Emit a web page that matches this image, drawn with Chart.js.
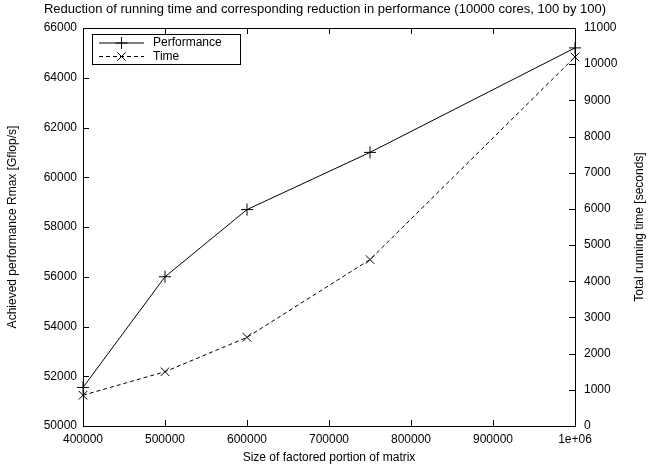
<!DOCTYPE html>
<html>
<head>
<meta charset="utf-8">
<script src="https://cdn.jsdelivr.net/npm/chart.js@4/dist/chart.umd.min.js"></script>
<style>
  body { margin: 0; background: #fff; }
  #wrap { width: 650px; height: 472px; }
</style>
</head>
<body>
<div id="wrap"><canvas id="myChart"></canvas></div>
<script>
/* DATA */
var matrixSizes = [400000, 500000, 600000, 750000, 1000000];
var performance = [51550, 56000, 58700, 61000, 65200];
var runTime = [850, 1500, 2450, 4600, 10200];
var xTickValues = [400000, 500000, 600000, 700000, 800000, 900000, 1000000];
var xTickLabels = ['400000', '500000', '600000', '700000', '800000', '900000', '1e+06'];
var rightAxisTitle = 'Total running time [seconds]';
/* DATA */

var FONT = "'Liberation Sans', Arial, Helvetica, sans-serif";
Chart.defaults.font.family = FONT;
Chart.defaults.font.size = 12;
Chart.defaults.color = '#000';

function toXY(xs, ys) {
    return xs.map(function(x, i) { return { x: x, y: ys[i] }; });
}

// gnuplot style frame, inward ticks, boxed legend, right title read bottom-up
var gnuplotFrame = {
    id: 'gnuplotFrame',
    afterDatasetsDraw: function(chart) {
        var ctx = chart.ctx, a = chart.chartArea, s = chart.scales;
        var tl = 6;
        ctx.save();
        ctx.strokeStyle = '#000';
        ctx.lineWidth = 1;
        ctx.setLineDash([]);
        ctx.strokeRect(Math.round(a.left) + 0.5, Math.round(a.top) + 0.5,
                       Math.round(a.right - a.left), Math.round(a.bottom - a.top));
        ctx.beginPath();
        s.x.ticks.forEach(function(t) {
            var px = Math.round(s.x.getPixelForValue(t.value)) + 0.5;
            ctx.moveTo(px, a.bottom); ctx.lineTo(px, a.bottom - tl);
            ctx.moveTo(px, a.top); ctx.lineTo(px, a.top + tl);
        });
        s.y.ticks.forEach(function(t) {
            var py = Math.round(s.y.getPixelForValue(t.value)) + 0.5;
            ctx.moveTo(a.left, py); ctx.lineTo(a.left + tl, py);
        });
        s.y1.ticks.forEach(function(t) {
            var py = Math.round(s.y1.getPixelForValue(t.value)) + 0.5;
            ctx.moveTo(a.right, py); ctx.lineTo(a.right - tl, py);
        });
        ctx.stroke();

        // legend
        var lx = a.left + 9, ly = a.top + 6, lw = 148, lh = 30;
        ctx.fillStyle = '#fff';
        ctx.fillRect(lx, ly, lw, lh);
        ctx.strokeRect(lx + 0.5, ly + 0.5, lw, lh);
        ctx.font = '12px ' + FONT;
        ctx.textBaseline = 'middle';
        ctx.textAlign = 'left';
        chart.data.datasets.forEach(function(ds, i) {
            var yy = ly + 9 + i * 13.5;
            ctx.strokeStyle = ds.borderColor;
            ctx.lineWidth = 1;
            ctx.setLineDash(ds.borderDash || []);
            ctx.beginPath();
            ctx.moveTo(lx + 7, yy);
            ctx.lineTo(lx + 52, yy);
            ctx.stroke();
            ctx.setLineDash([]);
            Chart.helpers.drawPoint(ctx, {
                pointStyle: ds.pointStyle, radius: ds.pointRadius, rotation: 0, borderWidth: 1
            }, lx + 29.5, yy);
            ctx.fillStyle = '#000';
            ctx.fillText(ds.label, lx + 61, yy);
        });

        // right axis title, rotated like the left one
        ctx.translate(chart.width - 10, (a.top + a.bottom) / 2);
        ctx.rotate(-Math.PI / 2);
        ctx.textAlign = 'center';
        ctx.fillText(rightAxisTitle, 0, 0);
        ctx.restore();
    }
};

var config = {
    type: 'line',
    data: {
        datasets: [
            {
                label: 'Performance', data: toXY(matrixSizes, performance), yAxisID: 'y',
                borderColor: '#000', borderWidth: 1, pointStyle: 'cross', pointRadius: 6,
                pointBorderColor: '#000', pointBorderWidth: 1, fill: false, clip: false
            },
            {
                label: 'Time', data: toXY(matrixSizes, runTime), yAxisID: 'y1',
                borderColor: '#000', borderWidth: 1, borderDash: [4, 3], pointStyle: 'crossRot', pointRadius: 6,
                pointBorderColor: '#000', pointBorderWidth: 1, fill: false, clip: false
            }
        ]
    },
    options: {
        responsive: true,
        maintainAspectRatio: false,
        animation: false,
        layout: { padding: 0 },
        plugins: {
            legend: { display: false },
            tooltip: { enabled: false },
            title: {
                display: true,
                text: 'Reduction of running time and corresponding reduction in performance (10000 cores, 100 by 100)',
                font: { size: 13, weight: 'normal' },
                color: '#000',
                padding: { top: 2, bottom: 10.4 }
            }
        },
        scales: {
            x: {
                type: 'linear', min: 400000, max: 1000000,
                afterBuildTicks: function(scale) {
                    scale.ticks = xTickValues.map(function(v) { return { value: v }; });
                },
                afterFit: function(scale) { scale.height = 46; },
                grid: { display: false, drawTicks: false },
                border: { display: false },
                ticks: {
                    padding: 6,
                    maxRotation: 0,
                    autoSkip: false,
                    callback: function(v) { return xTickLabels[xTickValues.indexOf(v)]; }
                },
                title: { display: true, text: 'Size of factored portion of matrix', padding: { top: 0, bottom: 7 } }
            },
            y: {
                position: 'left', min: 50000, max: 66000,
                afterFit: function(scale) { scale.width = 83; },
                grid: { display: false, drawTicks: false },
                border: { display: false },
                ticks: { stepSize: 2000, padding: 6, callback: function(v) { return String(v); } },
                title: { display: true, text: 'Achieved performance Rmax [Gflop/s]', padding: { top: 5, bottom: 0 } }
            },
            y1: {
                position: 'right', min: 0, max: 11000,
                afterFit: function(scale) { scale.width = 75; },
                grid: { display: false, drawTicks: false },
                border: { display: false },
                ticks: { stepSize: 1000, padding: 9, callback: function(v) { return String(v); } },
                title: { display: false }
            }
        }
    },
    plugins: [gnuplotFrame]
};

window.onload = function() {
    var ctx = document.getElementById('myChart').getContext('2d');
    window.myChart = new Chart(ctx, config);
};
</script>
</body>
</html>
